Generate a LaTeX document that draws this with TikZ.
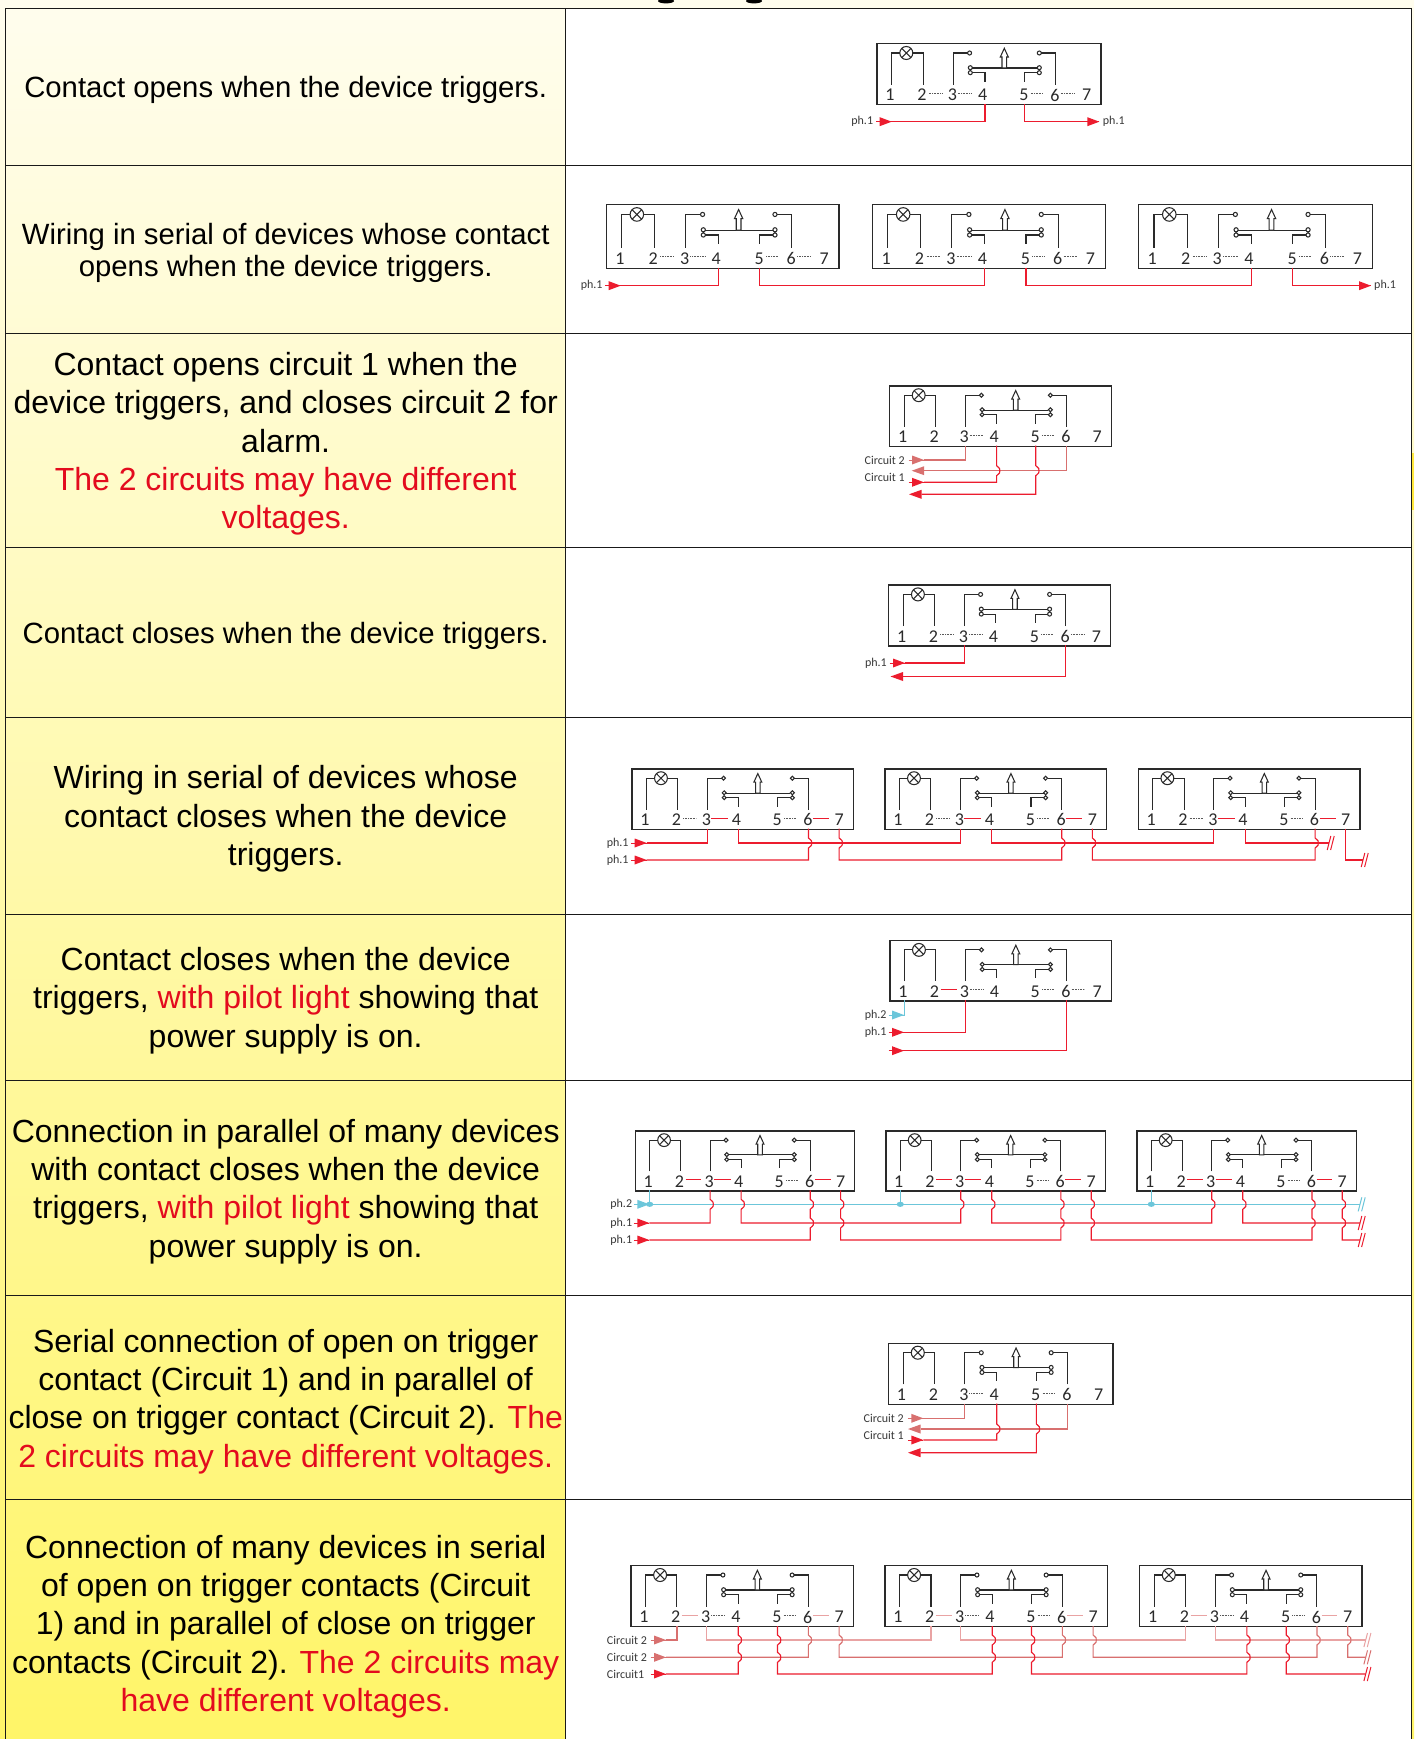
\documentclass[tikz,border=0pt]{standalone}
\usepackage{fontspec}
\setmainfont{Liberation Sans}
\newfontfamily\carl{Carlito}
\definecolor{txred}{HTML}{E30B1E}
\definecolor{wred}{HTML}{EC1C2E}
\definecolor{wpink}{HTML}{D8706F}
\definecolor{wpale}{HTML}{E9A3A3}
\definecolor{wblue}{HTML}{6CC6DA}
\definecolor{ink}{HTML}{2A2A2A}
\definecolor{bgtop}{HTML}{FFFDEE}
\definecolor{bgbot}{HTML}{FFF568}
\definecolor{edgemark}{HTML}{FFE83C}
\tikzset{
  grid/.style={draw=black!90,line width=1pt},
  celltext/.style={align=center,inner sep=0pt,font=\fontsize{32}{38.3}\selectfont},
  smalltext/.style={align=center,inner sep=0pt,font=\fontsize{29.3}{32.2}\selectfont},
  lab/.style={inner sep=0pt,text=black!78,font=\carl\fontsize{12}{13}\selectfont},
  digit/.style={inner sep=0pt,text=ink,font=\carl\fontsize{18}{19}\selectfont},
  boxline/.style={draw=ink,line width=1.2pt},
  inner/.style={draw=ink,line width=1.05pt},
  dots/.style={draw=black!65,line width=.5pt,dash pattern=on .8pt off .8pt,shorten >=2.5pt,shorten <=.5pt},
  rlink/.style={draw=wred,line width=1.1pt},
  plink/.style={draw=wpale,line width=1.1pt},
  nolink/.style={draw=none},
  rd/.style={draw=wred,line width=1.15pt},
  pk/.style={draw=wpink,line width=1.15pt},
  pl/.style={draw=wpale,line width=1.15pt},
  bl/.style={draw=wblue,line width=1.15pt},
}
% device: name, x, y, w, h, link 2-3, link 3-4, link 5-6, link 6-7
\newcommand\device[9]{%
\begin{scope}[shift={(#2,#3)},xscale=#4/224,yscale=#5/61]
  \node[boxline,draw,inner sep=0pt,minimum width=#4*1pt,minimum height=#5*1pt,anchor=north west] (#1) at (0,0) {};
  \foreach \n/\dx in {1/13.7,2/45.7,3/76,4/106.3,5/147.7,6/178.7,7/210.3}
    \node[digit] (#1-n\n) at (\dx,52) {\n};
  \coordinate (#1-t1) at (15.3,61);
  \coordinate (#1-t2) at (47,61);
  \coordinate (#1-t3) at (77,61);
  \coordinate (#1-t4) at (108.7,61);
  \coordinate (#1-t5) at (148.3,61);
  \coordinate (#1-t6) at (179.3,61);
  \coordinate (#1-t7) at (210.3,61);
  \draw[inner] (15.3,41.7) -- (15.3,10) -- (23.5,10);
  \draw[inner] (36.5,10) -- (47,10) -- (47,41.7);
  \draw[inner] (30,10) circle (6.5);
  \draw[inner] (25.4,5.4) -- (34.6,14.6) (25.4,14.6) -- (34.6,5.4);
  \draw[inner] (77,41.7) -- (77,10) -- (91.3,10);
  \draw[inner] (93.3,10) circle (2);
  \draw[inner] (179.3,41.7) -- (179.3,10) -- (165,10);
  \draw[inner] (163,10) circle (2);
  \draw[inner] (96,25) -- (161,25);
  \draw[inner] (94,24.7) circle (2) (94,29.7) circle (2);
  \draw[inner] (163,24.7) circle (2) (163,29.7) circle (2);
  \draw[inner] (96,29.7) -- (108.7,29.7) -- (108.7,38.7);
  \draw[inner] (161,29.7) -- (148.3,29.7) -- (148.3,38.7);
  \draw[inner,fill=white] (128,5.3) -- (132,14) -- (130.3,14) -- (130.3,25) -- (125.7,25) -- (125.7,14) -- (124,14) -- cycle;
  \draw[#6] (52,50.3) -- (68,50.3);
  \draw[#7] (81,50.3) -- (98,50.3);
  \draw[#8] (154,50.3) -- (169,50.3);
  \draw[#9] (184,50.3) -- (200,50.3);
\end{scope}}
% jumps on the first (\J) and the last (\K) vertical of a connector
\newcommand\J[1]{-- (\Xa,#1-5) .. controls (\Xa+.5,#1-3) and (\Xa+3.6,#1-4) .. (\Xa+3.2,#1) .. controls (\Xa+3.6,#1+4) and (\Xa+.5,#1+3) .. (\Xa,#1+5)}
\newcommand\K[1]{-- (\Xb,#1+5) .. controls (\Xb+.5,#1+3) and (\Xb+3.6,#1+4) .. (\Xb+3.2,#1) .. controls (\Xb+3.6,#1-4) and (\Xb+.5,#1-3) .. (\Xb,#1-5)}
% connector: style, from, bus y, to, jumps from, jumps to
\newcommand\conn[6][rd]{%
  \pgfpointanchor{#2}{center}\pgfgetlastxy{\Xa}{\Ya}%
  \pgfpointanchor{#4}{center}\pgfgetlastxy{\Xb}{\Yb}%
  \draw[#1] (#2) #5 -- (\Xa,#3) -- (\Xb,#3) #6 -- (#4);}
% arrow tips: name, x of tip (R) / tip (L), y, colour
\newcommand\arrR[4]{%
  \coordinate (#1) at (#2,#3);
  \fill[#4] (#2-12,#3-4.5) -- (#2,#3) -- (#2-12,#3+4.5) -- cycle;
  \draw[#4,line width=1pt] (#2-15.5,#3) -- (#2,#3);}
\newcommand\arrL[4]{%
  \coordinate (#1) at (#2+12.5,#3);
  \fill[#4] (#2,#3) -- (#2+12.5,#3-4.5) -- (#2+12.5,#3+4.5) -- cycle;}
\newcommand\cutmark[4]{%
  \coordinate (#1) at (#2-2,#3);
  \draw[#4,line width=1pt] (#2-3.8,#3+7) -- (#2-.2,#3-7) (#2-.4,#3+7) -- (#2+3.2,#3-7);}
\begin{document}
\begin{tikzpicture}[x=1pt,y=-1pt]
\useasboundingbox (0,0) rectangle (1414,1739);
\shade[top color=bgtop,bottom color=bgbot] (0,0) rectangle (1414,1739);
\fill[white] (565.5,8.5) rectangle (1411,1739);
\fill[edgemark] (1412,453) rectangle (1414,510);
\fill[black] (666,1) ellipse (8 and 2.4);
\fill[black] (754,1) ellipse (8 and 2.4);
% grid
\draw[grid] (5.7,1739) -- (5.7,8.5) -- (1411,8.5) -- (1411,1739);
\draw[grid] (565.5,8.5) -- (565.5,1739);
\foreach \yy in {165.5,333,547,717,914,1080,1295,1499}
  \draw[grid] (5.7,\yy) -- (1411,\yy);
% left column
\node[smalltext] (c1) at (285.7,90) {Contact opens when the device triggers.};
\node[smalltext] (c2) at (285.7,253) {Wiring in serial of devices whose contact\\opens when the device triggers.};
\node[celltext] (c3) at (285.7,444) {Contact opens circuit 1 when the\\device triggers, and closes circuit 2 for\\alarm.\\\textcolor{txred}{The 2 circuits may have different}\\\textcolor{txred}{voltages.}};
\node[smalltext] (c4) at (285.7,636) {Contact closes when the device triggers.};
\node[celltext] (c5) at (285.7,819) {Wiring in serial of devices whose\\contact closes when the device\\triggers.};
\node[celltext] (c6) at (285.7,1000.5) {Contact closes when the device\\triggers, \textcolor{txred}{with pilot light} showing that\\power supply is on.};
\node[celltext] (c7) at (285.7,1191.5) {Connection in parallel of many devices\\with contact closes when the device\\triggers, \textcolor{txred}{with pilot light} showing that\\power supply is on.};
\node[celltext] (c8) at (285.7,1401.5) {Serial connection of open on trigger\\contact (Circuit 1) and in parallel of\\close on trigger contact (Circuit 2). \textcolor{txred}{The}\\\textcolor{txred}{2 circuits may have different voltages.}};
\node[celltext] (c9) at (285.7,1626.5) {Connection of many devices in serial\\of open on trigger contacts (Circuit\\1) and in parallel of close on trigger\\contacts (Circuit 2). \textcolor{txred}{The 2 circuits may}\\\textcolor{txred}{have different voltages.}};
% ---- row 1
\device{a}{876.3}{43}{224}{61}{dots}{dots}{dots}{dots}
\arrR{a1}{891.7}{121.7}{wred}
\arrR{a2}{1099.3}{121.7}{wred}
\node[lab,anchor=east] (al) at (873.3,121.7) {ph.1};
\node[lab,anchor=west] (ar) at (1102.7,121.7) {ph.1};
\conn{a-t4}{121.7}{a1}{}{}
\conn{a-t5}{121.7}{a2}{}{}
% ---- row 2
\device{ba}{605.7}{204}{232.6}{63.7}{dots}{dots}{dots}{dots}
\device{bb}{872}{204}{232.6}{63.7}{dots}{dots}{dots}{dots}
\device{bc}{1138}{204}{233.7}{63.7}{dots}{dots}{dots}{dots}
\arrR{b1}{620.7}{285.7}{wred}
\arrR{b2}{1371}{285.7}{wred}
\node[lab,anchor=east] (bl1) at (602.7,285.7) {ph.1};
\node[lab,anchor=west] (bl2) at (1374,285.7) {ph.1};
\conn{ba-t4}{285.7}{b1}{}{}
\conn{ba-t5}{285.7}{bb-t4}{}{}
\conn{bb-t5}{285.7}{bc-t4}{}{}
\conn{bc-t5}{285.7}{b2}{}{}
% ---- row 3
\device{c}{889}{385.3}{221.7}{60.4}{nolink}{dots}{dots}{nolink}
\arrR{c-a}{924}{460}{wpink}
\arrL{c-b}{911.7}{470.7}{wpink}
\arrR{c-c}{924}{482.3}{wred}
\arrL{c-d}{909}{494.3}{wred}
\node[lab,anchor=east] (cl1) at (905,460) {Circuit 2};
\node[lab,anchor=east] (cl2) at (905,477.3) {Circuit 1};
\conn[pk]{c-t3}{460}{c-a}{}{}
\conn[pk]{c-t6}{470.7}{c-b}{}{}
\conn{c-t4}{482.3}{c-c}{\J{470.7}}{}
\conn{c-t5}{494.3}{c-d}{\J{470.7}}{}
% ---- row 4
\device{d}{888.2}{584.4}{221.8}{61}{dots}{dots}{dots}{dots}
\arrR{d-a}{905}{663}{wred}
\arrL{d-b}{890.5}{676.5}{wred}
\node[lab,anchor=east] (dl) at (887,663) {ph.1};
\conn{d-t3}{663}{d-a}{}{}
\conn{d-t6}{676.5}{d-b}{}{}
% ---- row 5
\device{ea}{631.3}{768.3}{221.4}{60.4}{dots}{rlink}{dots}{rlink}
\device{eb}{884.3}{768.3}{221.6}{60.4}{dots}{rlink}{dots}{rlink}
\device{ec}{1137.7}{768.3}{221.6}{60.4}{dots}{rlink}{dots}{rlink}
\arrR{e-a}{646.7}{843}{wred}
\arrR{e-b}{646.7}{860}{wred}
\node[lab,anchor=east] (el1) at (628.7,843) {ph.1};
\node[lab,anchor=east] (el2) at (628.7,860) {ph.1};
\cutmark{e-c}{1331}{843}{wred}
\cutmark{e-d}{1365}{860}{wred}
\conn{ea-t3}{843}{e-a}{}{}
\conn{ea-t6}{860}{e-b}{\J{843}}{}
\conn{ea-t4}{843}{eb-t3}{}{}
\conn{ea-t7}{860}{eb-t6}{\J{843}}{\K{843}}
\conn{eb-t4}{843}{ec-t3}{}{}
\conn{eb-t7}{860}{ec-t6}{\J{843}}{\K{843}}
\conn{ec-t4}{843}{e-c}{}{}
\conn{ec-t7}{860}{e-d}{}{}
% ---- row 6
\device{f}{889.3}{940}{221.4}{60.3}{rlink}{dots}{dots}{dots}
\arrR{f-a}{904}{1015}{wblue}
\arrR{f-b}{904}{1032.3}{wred}
\arrR{f-c}{904}{1050.7}{wred}
\node[lab,anchor=east] (fl1) at (886.7,1015) {ph.2};
\node[lab,anchor=east] (fl2) at (886.7,1032.3) {ph.1};
\conn[bl]{f-t1}{1015}{f-a}{}{}
\conn{f-t3}{1032.3}{f-b}{}{}
\conn{f-t6}{1050.7}{f-c}{}{}
% ---- row 7
\device{ga}{634.7}{1130.3}{219.3}{60}{rlink}{rlink}{dots}{rlink}
\device{gb}{885.3}{1130.3}{219.3}{60}{rlink}{rlink}{dots}{rlink}
\device{gc}{1136.3}{1130.3}{219.4}{60}{rlink}{rlink}{dots}{rlink}
\arrR{g-a}{649.3}{1204.3}{wblue}
\arrR{g-b}{649.3}{1223}{wred}
\arrR{g-c}{649.3}{1240}{wred}
\node[lab,anchor=east] (gl1) at (632.3,1204.3) {ph.2};
\node[lab,anchor=east] (gl2) at (632.3,1223) {ph.1};
\node[lab,anchor=east] (gl3) at (632.3,1240) {ph.1};
\cutmark{g-d}{1362}{1204.3}{wblue}
\cutmark{g-e}{1362}{1223}{wred}
\cutmark{g-f}{1362}{1240}{wred}
\draw[bl] (g-a) -- (g-d);
\foreach \nm in {ga,gb,gc}{
  \coordinate (\nm-dot) at (\nm-t1 |- g-a);
  \draw[bl] (\nm-t1) -- (\nm-dot);
  \fill[wblue] (\nm-dot) ellipse (3.6 and 2.6);
}
\conn{ga-t3}{1223}{g-b}{\J{1204.3}}{}
\conn{ga-t6}{1240}{g-c}{\J{1204.3}\J{1223}}{}
\conn{ga-t4}{1223}{gb-t3}{\J{1204.3}}{\K{1204.3}}
\conn{ga-t7}{1240}{gb-t6}{\J{1204.3}\J{1223}}{\K{1223}\K{1204.3}}
\conn{gb-t4}{1223}{gc-t3}{\J{1204.3}}{\K{1204.3}}
\conn{gb-t7}{1240}{gc-t6}{\J{1204.3}\J{1223}}{\K{1223}\K{1204.3}}
\conn{gc-t4}{1223}{g-e}{\J{1204.3}}{}
\conn{gc-t7}{1240}{g-f}{\J{1204.3}\J{1223}}{}
% ---- row 8
\device{h}{887.7}{1342.7}{224.6}{61}{nolink}{dots}{dots}{nolink}
\arrR{h-a}{923.3}{1418.3}{wpink}
\arrL{h-b}{908}{1429}{wpink}
\arrR{h-c}{923.3}{1440}{wred}
\arrL{h-d}{908}{1452.7}{wred}
\node[lab,anchor=east] (hl1) at (904,1418.3) {Circuit 2};
\node[lab,anchor=east] (hl2) at (904,1435) {Circuit 1};
\conn[pk]{h-t3}{1418.3}{h-a}{}{}
\conn[pk]{h-t6}{1429}{h-b}{}{}
\conn{h-t4}{1440}{h-c}{\J{1429}}{}
\conn{h-t5}{1452.7}{h-d}{\J{1429}}{}
% ---- row 9
\device{ia}{630.3}{1565}{222.4}{61}{plink}{dots}{dots}{plink}
\device{ib}{884.3}{1565}{222.4}{61}{plink}{dots}{dots}{plink}
\device{ic}{1139}{1565}{222.3}{61}{plink}{dots}{dots}{plink}
\arrR{i-a}{666}{1640}{wpink}
\arrR{i-b}{666}{1657.3}{wpink}
\arrR{i-c}{666}{1674}{wred}
\node[lab,anchor=west] (il1) at (606.7,1640) {Circuit 2};
\node[lab,anchor=west] (il2) at (606.7,1657.3) {Circuit 2};
\node[lab,anchor=west] (il3) at (606.7,1674) {Circuit1};
\cutmark{i-d}{1367.7}{1640}{wpale}
\cutmark{i-e}{1367.7}{1657.3}{wpink}
\cutmark{i-f}{1367.7}{1674}{wred}
\conn[pk]{ia-t2}{1640}{i-a}{}{}
\conn[pl]{ia-t3}{1640}{ib-t2}{}{}
\conn[pl]{ib-t3}{1640}{ic-t2}{}{}
\conn[pl]{ic-t3}{1640}{i-d}{}{}
\conn[pk]{ia-t6}{1657.3}{i-b}{\J{1640}}{}
\conn[pk]{ia-t7}{1657.3}{ib-t6}{\J{1640}}{\K{1640}}
\conn[pk]{ib-t7}{1657.3}{ic-t6}{\J{1640}}{\K{1640}}
\conn[pk]{ic-t7}{1657.3}{i-e}{\J{1640}}{}
\conn{ia-t4}{1674}{i-c}{\J{1640}\J{1657.3}}{}
\conn{ia-t5}{1674}{ib-t4}{\J{1640}\J{1657.3}}{\K{1657.3}\K{1640}}
\conn{ib-t5}{1674}{ic-t4}{\J{1640}\J{1657.3}}{\K{1657.3}\K{1640}}
\conn{ic-t5}{1674}{i-f}{\J{1640}\J{1657.3}}{}
\end{tikzpicture}
\end{document}
